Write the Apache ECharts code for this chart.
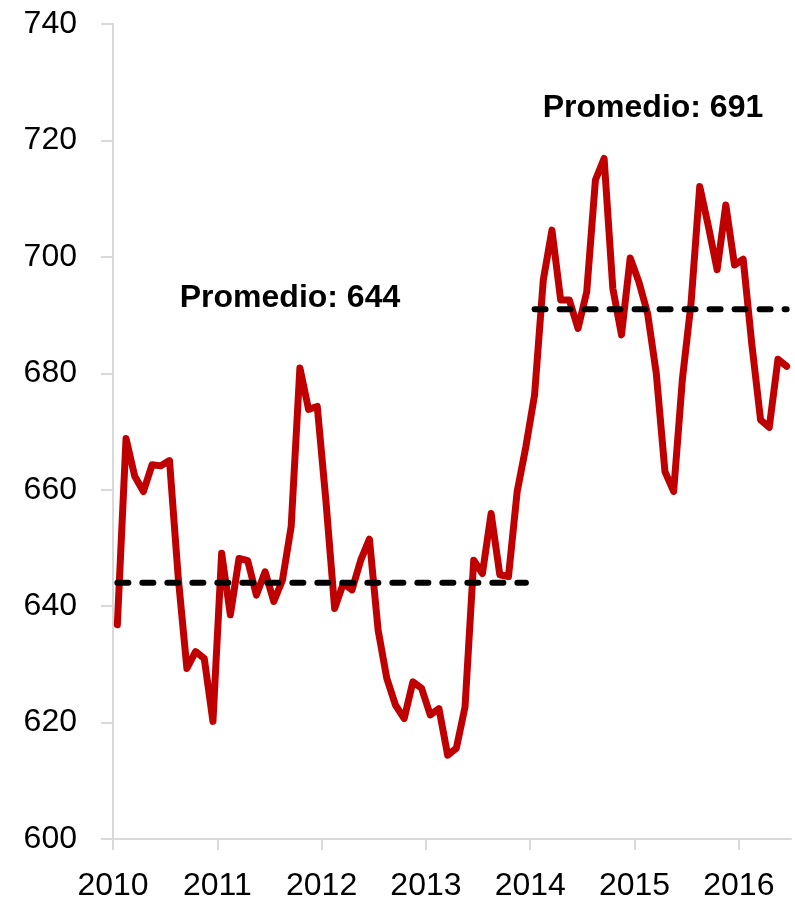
<!DOCTYPE html>
<html>
<head>
<meta charset="utf-8">
<script src="https://cdn.jsdelivr.net/npm/echarts@6/dist/echarts.min.js"></script>
<style>
html,body{margin:0;padding:0;background:#fff;}
#chart{width:795px;height:902px;}
</style>
</head>
<body>
<div id="chart"></div>
<script>
// Monthly values, Jan 2010 .. Jun 2016
var months = [];
var startYear = 2010;
var values = [
  636.8, 668.8, 662.3, 659.7, 664.3, 664.1, 665.0, 645.0, 629.3, 632.2, 631.0, 620.2,
  649.1, 638.5, 648.2, 647.8, 641.9, 645.9, 640.8, 644.5, 653.7, 680.9, 673.8, 674.3,
  658.0, 639.6, 643.9, 642.8, 647.9, 651.5, 635.9, 627.6, 623.0, 620.7, 627.0, 625.9,
  621.3, 622.4, 614.4, 615.6, 622.7, 647.9, 645.6, 655.9, 645.4, 645.1, 659.7, 667.4,
  676.3, 696.0, 704.6, 692.6, 692.6, 687.7, 694.0, 713.2, 716.9, 694.6, 686.6, 699.8,
  695.7, 690.3, 680.0, 663.1, 659.7, 678.9, 692.0, 712.1, 705.2, 697.8, 708.9, 698.6,
  699.6, 684.9, 672.0, 670.7, 682.4, 681.2
];
// Period averages: [first month index, last month index, value]
var avg1 = [0, 47, 644];
var avg2 = [48, 77, 691];
var avgLabels = ['Promedio: 644', 'Promedio: 691'];
var yearTicks = [2010, 2011, 2012, 2013, 2014, 2015, 2016];

for (var i = 0; i < values.length; i++) {
  months.push((startYear + Math.floor(i / 12)) + '-' + (i % 12 + 1));
}
function avgData(a) {
  var d = [];
  for (var k = a[0]; k <= a[1]; k++) d.push([k + 0.5, a[2]]);
  return d;
}
var lineData = values.map(function (v, i) { return [i + 0.5, v]; });
var tickVals = yearTicks.map(function (y) { return (y - startYear) * 12; });

var chart = echarts.init(document.getElementById('chart'), null, {renderer: 'canvas'});
var axisFont = 'Liberation Sans';
chart.setOption({
  animation: false,
  backgroundColor: '#ffffff',
  grid: {left: 113, right: 4, top: 24, bottom: 63, containLabel: false},
  xAxis: {
    type: 'value',
    min: 0,
    max: values.length,
    interval: 12,
    splitLine: {show: false},
    axisLine: {show: true, lineStyle: {color: '#d9d9d9', width: 2}},
    axisTick: {show: true, length: 11, lineStyle: {color: '#d9d9d9', width: 2}, customValues: tickVals},
    axisLabel: {
      customValues: tickVals,
      formatter: function (v) { return String(startYear + Math.round(v / 12)); },
      fontFamily: axisFont, fontSize: 32, color: '#000', margin: 31
    }
  },
  yAxis: {
    type: 'value',
    min: 600,
    max: 740,
    interval: 20,
    splitLine: {show: false},
    axisLine: {show: true, lineStyle: {color: '#d9d9d9', width: 2}},
    axisTick: {show: true, length: 12, lineStyle: {color: '#d9d9d9', width: 2}},
    axisLabel: {fontFamily: axisFont, fontSize: 32, color: '#000', margin: 36}
  },
  series: [
    {
      type: 'line', data: lineData, showSymbol: false, symbol: 'none',
      lineStyle: {color: '#c00000', width: 7, join: 'round', cap: 'round'},
      z: 2
    },
    {
      type: 'line', data: avgData(avg1), showSymbol: false, symbol: 'none',
      lineStyle: {color: '#000', width: 6, type: [11, 14], cap: 'round'},
      z: 3
    },
    {
      type: 'line', data: avgData(avg2), showSymbol: false, symbol: 'none',
      lineStyle: {color: '#000', width: 6, type: [11, 14], cap: 'round'},
      z: 3
    }
  ],
  graphic: [
    {type: 'text', x: 290, y: 298, style: {text: avgLabels[0], font: 'bold 32px "Liberation Sans"', fill: '#000', align: 'center', verticalAlign: 'middle'}},
    {type: 'text', x: 653, y: 108.5, style: {text: avgLabels[1], font: 'bold 32px "Liberation Sans"', fill: '#000', align: 'center', verticalAlign: 'middle'}}
  ]
});
</script>
</body>
</html>
